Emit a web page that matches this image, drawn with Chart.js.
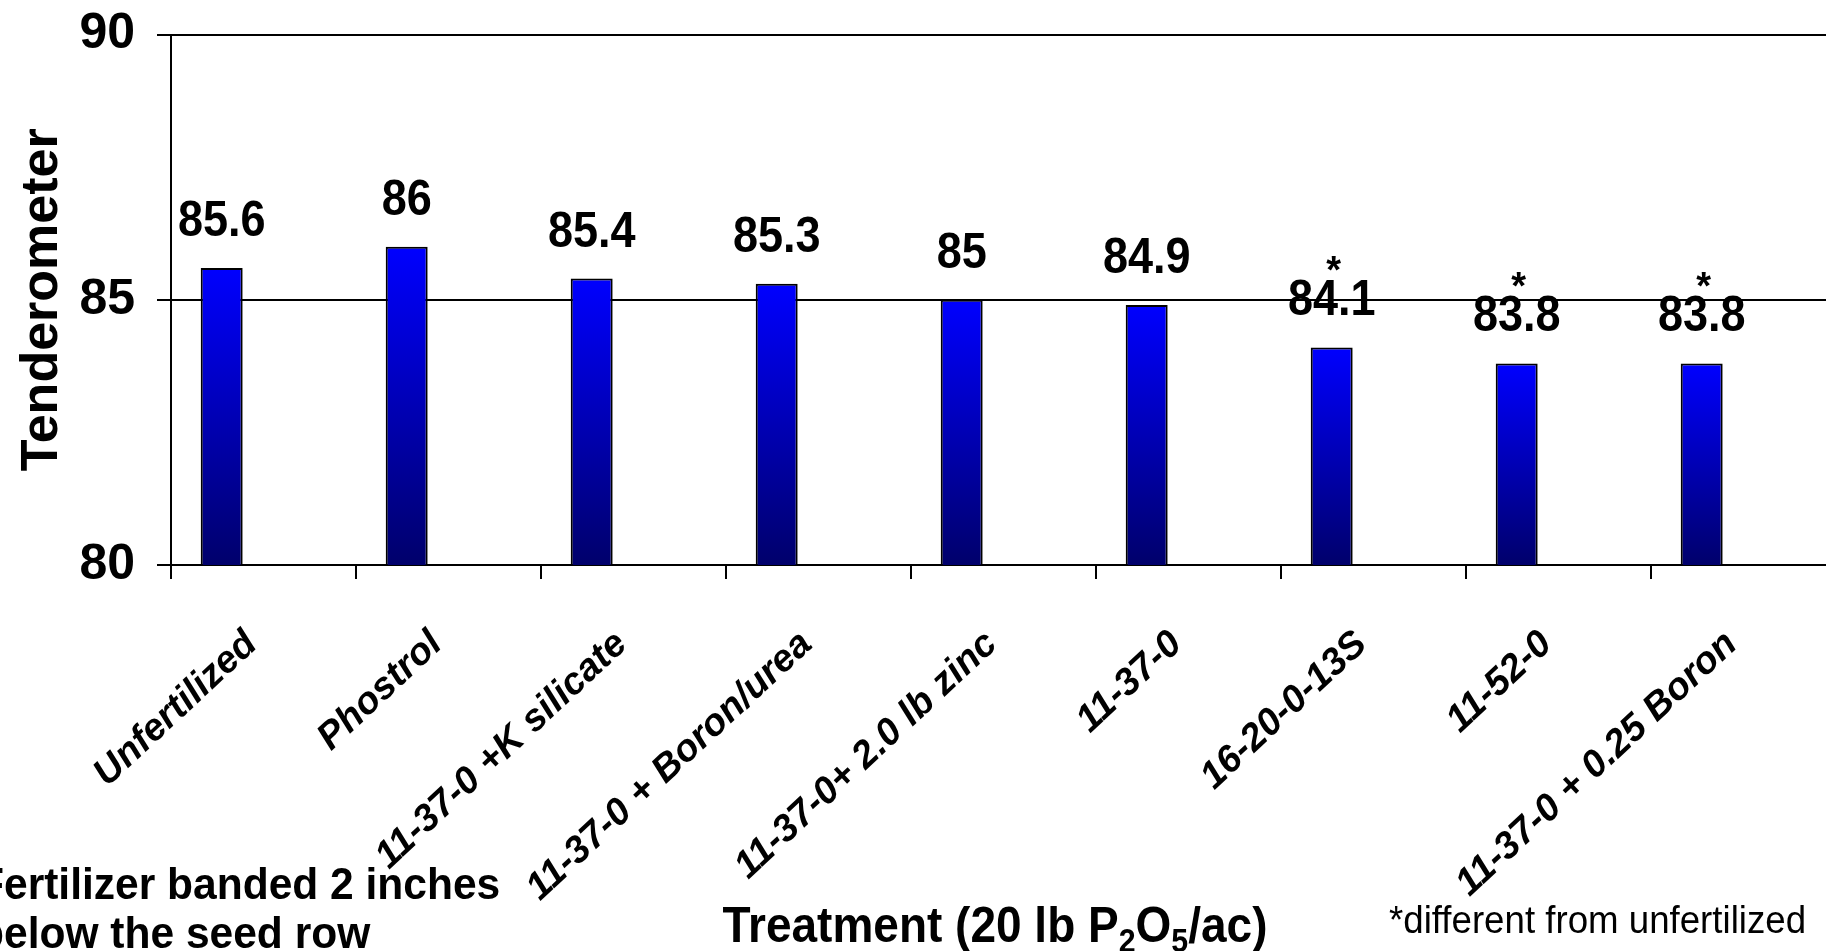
<!DOCTYPE html>
<html>
<head>
<meta charset="utf-8">
<title>Tenderometer by fertilizer treatment</title>
<script src="https://cdn.jsdelivr.net/npm/chart.js@4.4.1/dist/chart.umd.min.js"></script>
<style>
  html, body { margin: 0; padding: 0; background: #ffffff; overflow: hidden; width: 1826px; height: 951px; }
  #wrap { width: 1840px; height: 951px; }
  canvas { display: block; }
</style>
</head>
<body>
<div id="wrap"><canvas id="chart" width="1840" height="951"></canvas></div>
<script>
// Treatments (20 lb P2O5/ac, banded 2 inches below the seed row)
const treatments = [
  'Unfertilized',
  'Phostrol',
  '11-37-0 +K silicate',
  '11-37-0 + Boron/urea',
  '11-37-0+ 2.0 lb zinc',
  '11-37-0',
  '16-20-0-13S',
  '11-52-0',
  '11-37-0 + 0.25 Boron'
];

// Mean tenderometer reading per treatment
const tenderometer = [85.6, 86, 85.4, 85.3, 85, 84.9, 84.1, 83.8, 83.8];

// Treatments that differ from the unfertilized check
const differsFromCheck = [false, false, false, false, false, false, true, true, true];

// Value axis
const yMin = 80;
const yMax = 90;
const yStep = 5;

const FONT = "'Liberation Sans', Arial, Helvetica, sans-serif";

// Per-bar vertical gradient: bright blue at the top of each bar, navy at the base
function barGradient(ctx) {
  const chart = ctx.chart;
  if (!chart.chartArea || ctx.type !== 'data' || ctx.raw == null) return '#0000ff';
  const y = chart.scales.y;
  const top = y.getPixelForValue(ctx.raw);
  const bottom = y.getPixelForValue(yMin);
  const g = chart.ctx.createLinearGradient(0, top, 0, bottom);
  g.addColorStop(0, '#0000ff');
  g.addColorStop(1, '#00006b');
  return g;
}

// Draws text squeezed horizontally by sx
function squeezedText(ctx, text, x, y, sx, align) {
  ctx.save();
  ctx.translate(x, y);
  ctx.scale(sx, 1);
  ctx.textAlign = align || 'left';
  ctx.fillText(text, 0, 0);
  ctx.restore();
}

const annotations = {
  id: 'annotations',
  afterDatasetsDraw(chart) {
    const ctx = chart.ctx;
    const meta = chart.getDatasetMeta(0);
    ctx.save();
    ctx.fillStyle = '#000000';
    ctx.textBaseline = 'alphabetic';
    meta.data.forEach((bar, i) => {
      const base = bar.y - 32;
      ctx.font = 'bold 50px ' + FONT;
      squeezedText(ctx, String(tenderometer[i]), bar.x, base, 0.9, 'center');
      if (differsFromCheck[i]) {
        ctx.font = 'bold 38px ' + FONT;
        squeezedText(ctx, '*', bar.x + 2, base - 32, 1, 'center');
      }
    });
    ctx.restore();
  },
  afterDraw(chart) {
    const ctx = chart.ctx;
    ctx.save();
    ctx.fillStyle = '#000000';
    ctx.textBaseline = 'alphabetic';

    // Category axis title with subscripts
    const runs = [
      { t: 'Treatment (20 lb P', sub: false },
      { t: '2', sub: true },
      { t: 'O', sub: false },
      { t: '5', sub: true },
      { t: '/ac)', sub: false }
    ];
    const sx = 0.92;
    const mainFont = 'bold 50px ' + FONT;
    const subFont = 'bold 33px ' + FONT;
    let total = 0;
    runs.forEach(r => { ctx.font = r.sub ? subFont : mainFont; total += ctx.measureText(r.t).width * sx; });
    let x = 995 - total / 2;
    const baseY = 942;
    runs.forEach(r => {
      ctx.font = r.sub ? subFont : mainFont;
      squeezedText(ctx, r.t, x, r.sub ? baseY + 10 : baseY, sx, 'left');
      x += ctx.measureText(r.t).width * sx;
    });

    // Application note
    ctx.font = 'bold 45px ' + FONT;
    squeezedText(ctx, 'Fertilizer banded 2 inches', -22, 899, 0.945, 'left');
    squeezedText(ctx, 'below the seed row', -22, 948, 0.945, 'left');

    // Significance footnote
    ctx.font = '39px ' + FONT;
    squeezedText(ctx, '*different from unfertilized', 1389, 933, 0.94, 'left');
    ctx.restore();
  }
};

new Chart(document.getElementById('chart'), {
  type: 'bar',
  data: {
    labels: treatments,
    datasets: [
      {
        label: 'Tenderometer',
        data: tenderometer,
        backgroundColor: barGradient,
        borderColor: '#000000',
        borderWidth: 2,
        borderSkipped: false
      },
      {
        label: '',
        data: treatments.map(() => null),
        backgroundColor: 'rgba(0,0,0,0)',
        borderWidth: 0
      }
    ]
  },
  options: {
    responsive: false,
    animation: false,
    devicePixelRatio: 1,
    categoryPercentage: 0.904,
    barPercentage: 0.502,
    layout: { padding: { top: 0, right: 4, bottom: 0, left: 0 } },
    plugins: {
      legend: { display: false },
      tooltip: { enabled: false },
      title: { display: false }
    },
    scales: {
      x: {
        afterFit(scale) { scale.height = 386; },
        grid: {
          display: true,
          drawOnChartArea: false,
          drawTicks: true,
          tickLength: 14,
          color: '#000000',
          lineWidth: 2
        },
        border: { display: true, color: '#000000', width: 2 },
        ticks: {
          autoSkip: false,
          maxRotation: 43,
          minRotation: 43,
          padding: 43,
          labelOffset: -12,
          color: '#000000',
          font: { family: FONT, size: 38, weight: 'bold', style: 'italic' }
        }
      },
      y: {
        min: yMin,
        max: yMax,
        afterFit(scale) { scale.width = 171; },
        grid: {
          display: true,
          drawTicks: true,
          tickLength: 14,
          color: '#000000',
          lineWidth: 2
        },
        border: { display: true, color: '#000000', width: 2 },
        ticks: {
          stepSize: yStep,
          padding: 22,
          color: '#000000',
          font: { family: FONT, size: 50, weight: 'bold', lineHeight: 0.5 }
        },
        title: {
          display: true,
          text: 'Tenderometer',
          color: '#000000',
          font: { family: FONT, size: 52, weight: 'bold' },
          padding: { top: 11, bottom: 0 }
        }
      }
    }
  },
  plugins: [annotations]
});
</script>
</body>
</html>
